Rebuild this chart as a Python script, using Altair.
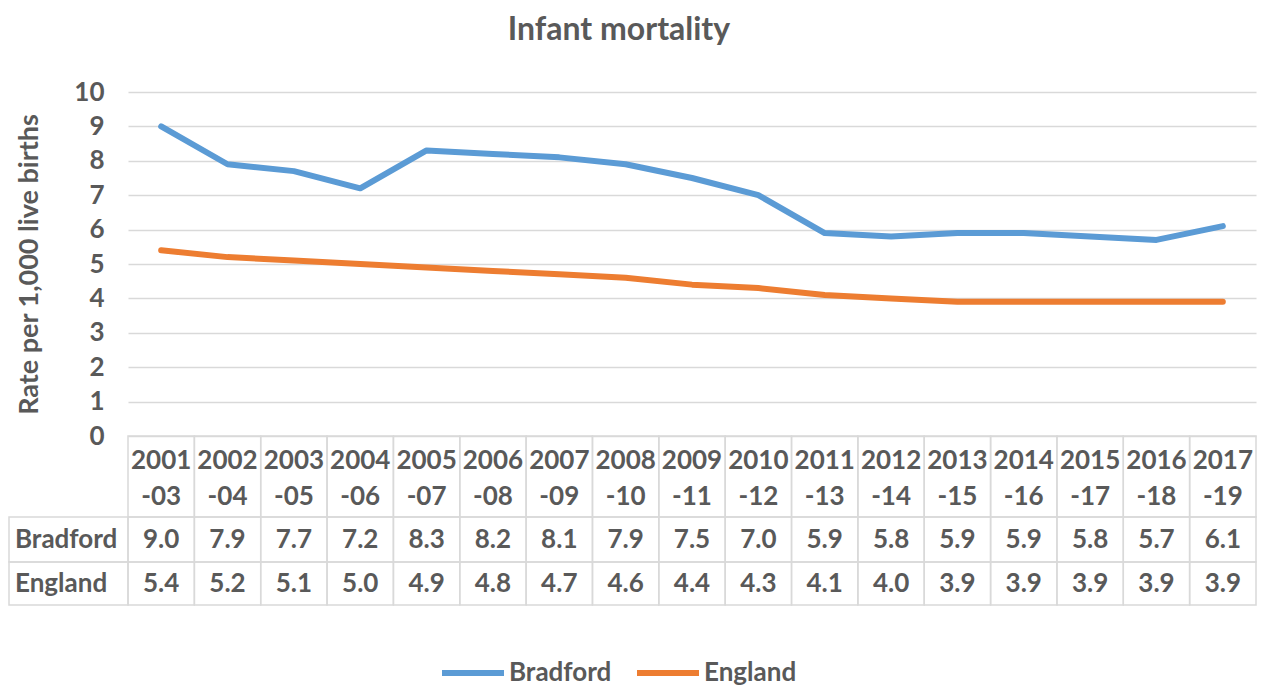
import altair as alt
import pandas as pd

# ---------------- data ----------------
periods = ["2001-03", "2002-04", "2003-05", "2004-06", "2005-07", "2006-08",
           "2007-09", "2008-10", "2009-11", "2010-12", "2011-13", "2012-14",
           "2013-15", "2014-16", "2015-17", "2016-18", "2017-19"]
bradford = [9.0, 7.9, 7.7, 7.2, 8.3, 8.2, 8.1, 7.9, 7.5, 7.0, 5.9, 5.8, 5.9, 5.9, 5.8, 5.7, 6.1]
england = [5.4, 5.2, 5.1, 5.0, 4.9, 4.8, 4.7, 4.6, 4.4, 4.3, 4.1, 4.0, 3.9, 3.9, 3.9, 3.9, 3.9]
series_names = ["Bradford", "England"]
series_colors = ["#5B9BD5", "#ED7D31"]
y_ticks = list(range(0, 11))
y_max = 10

# ---------------- layout / style ----------------
FONT = "Lato"
GREY = "#595959"
GRID = "#D9D9D9"
FS = 26

W, H = 1128, 344
n = len(periods)
col_w = W / n
ppu = H / y_max
label_col_px = 119
header_px, body_px = 81, [45, 43]
header_line_px = [25, 61]   # centres of the two header text lines below the top edge


def py(px):
    return -px / ppu


x_lo = -0.5
label_left = x_lo - label_col_px / col_w

line_rows = []
for name, vals in zip(series_names, [bradford, england]):
    for i, v in enumerate(vals):
        line_rows.append({"i": i, "series": name, "value": v})
lines_df = pd.DataFrame(line_rows)

cells, texts, labels = [], [], []
yt, yb = 0.0, py(header_px)
for i, p in enumerate(periods):
    cells.append(dict(x1=i - 0.5, x2=i + 0.5, y1=yt, y2=yb))
    texts.append(dict(xc=i, yc=py(header_line_px[0]), txt=p[:4]))
    texts.append(dict(xc=i, yc=py(header_line_px[1]), txt=p[4:]))
top_px = header_px
for name, vals, h in zip(series_names, [bradford, england], body_px):
    yt, yb = py(top_px), py(top_px + h)
    for i, v in enumerate(vals):
        cells.append(dict(x1=i - 0.5, x2=i + 0.5, y1=yt, y2=yb))
        texts.append(dict(xc=i, yc=(yt + yb) / 2, txt=f"{v:.1f}"))
    labels.append(dict(x1=label_left, x2=x_lo, y1=yt, y2=yb, yc=(yt + yb) / 2,
                       xc=label_left, txt=name))
    top_px += h
cells_df = pd.DataFrame(cells)
texts_df = pd.DataFrame(texts)
labels_df = pd.DataFrame(labels)

xs = alt.Scale(domain=[-0.5, n - 0.5], nice=False, zero=False)
ys = alt.Scale(domain=[0, y_max], nice=False, zero=False)
y_axis = alt.Axis(values=y_ticks, title="Rate per 1,000 live births",
                  grid=True, gridColor=GRID, gridWidth=1.5,
                  domain=False, ticks=False,
                  labelFont=FONT, labelFontSize=FS, labelFontWeight="bold",
                  labelColor=GREY, labelPadding=24,
                  titleFont=FONT, titleFontSize=27, titleFontWeight="bold",
                  titleColor=GREY, titlePadding=30)

lines = alt.Chart(lines_df).mark_line(
    strokeWidth=6, strokeCap="round", strokeJoin="round"
).encode(
    x=alt.X("i:Q", scale=xs, axis=None),
    y=alt.Y("value:Q", scale=ys, axis=y_axis),
    color=alt.Color("series:N",
                    scale=alt.Scale(domain=series_names, range=series_colors),
                    legend=alt.Legend(title=None, orient="none", direction="horizontal",
                                      legendX=311, legendY=547,
                                      symbolType="stroke", symbolSize=3844,
                                      symbolStrokeWidth=6,
                                      labelFont=FONT, labelFontSize=FS,
                                      labelFontWeight="bold", labelColor=GREY,
                                      labelOffset=2, columnPadding=13)),
)

cell_rects = alt.Chart(cells_df).mark_rect(
    fillOpacity=0, stroke=GRID, strokeWidth=1.5
).encode(
    x=alt.X("x1:Q", scale=xs, axis=None), x2="x2:Q",
    y=alt.Y("y1:Q", scale=ys, axis=y_axis), y2="y2:Q",
)

cell_text = alt.Chart(texts_df).mark_text(
    font=FONT, fontSize=FS, fontWeight="bold", color=GREY,
    baseline="middle", align="center"
).encode(
    x=alt.X("xc:Q", scale=xs, axis=None),
    y=alt.Y("yc:Q", scale=ys, axis=y_axis),
    text="txt:N",
)

label_rects = alt.Chart(labels_df).mark_rect(
    fillOpacity=0, stroke=GRID, strokeWidth=1.5
).encode(
    x=alt.X("x1:Q", scale=xs, axis=None), x2="x2:Q",
    y=alt.Y("y1:Q", scale=ys, axis=y_axis), y2="y2:Q",
)

label_text = alt.Chart(labels_df).mark_text(
    font=FONT, fontSize=FS, fontWeight="bold", color=GREY,
    baseline="middle", align="left", dx=6
).encode(
    x=alt.X("xc:Q", scale=xs, axis=None),
    y=alt.Y("yc:Q", scale=ys, axis=y_axis),
    text="txt:N",
)

chart = alt.layer(
    cell_rects, label_rects, cell_text, label_text, lines
).properties(
    width=W, height=H,
    padding={"left": 0, "top": 6, "right": 0, "bottom": 0},
    title=alt.TitleParams("Infant mortality", font=FONT, fontSize=32,
                          fontWeight="bold", color=GREY, anchor="middle",
                          offset=32, dx=-73),
).configure_view(strokeWidth=0)

chart.save("out.html", embed_options={"renderer": "svg", "actions": False})
